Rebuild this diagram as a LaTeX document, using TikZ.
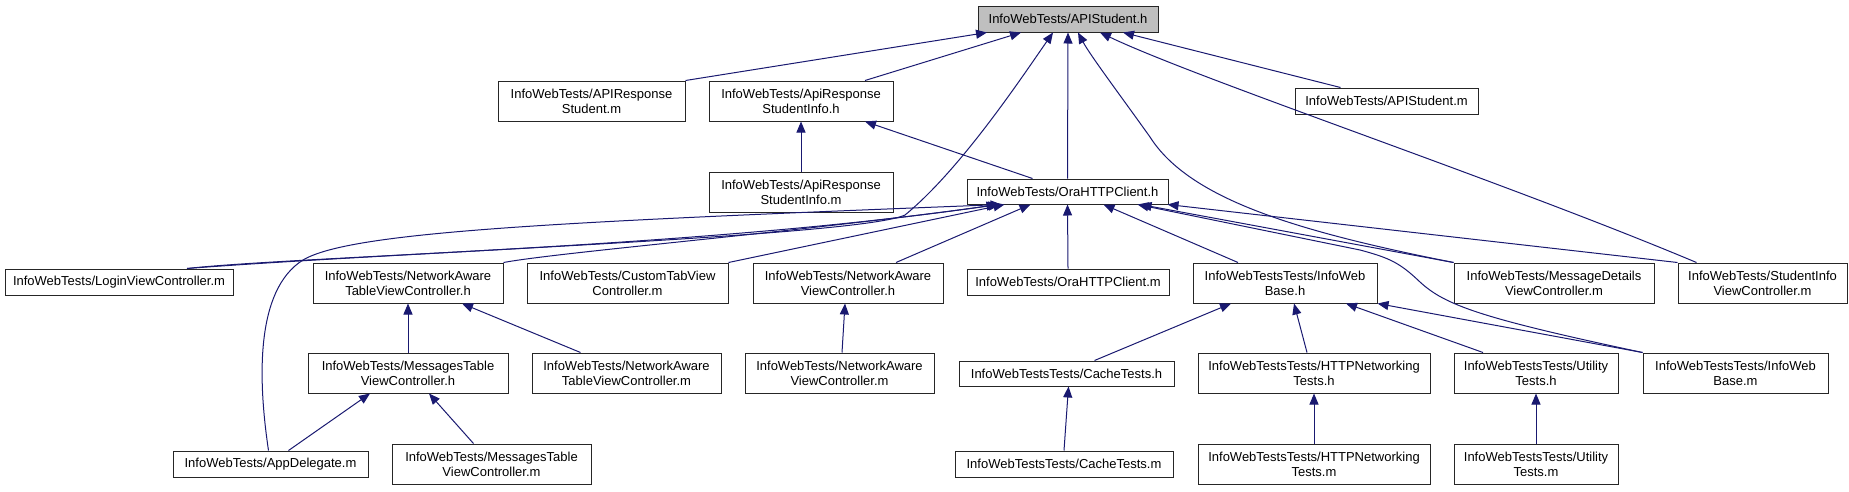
\documentclass[tikz,border=0pt]{standalone}
\usepackage{fontspec}
\setmainfont{Liberation Sans}
\usetikzlibrary{arrows.meta}
\definecolor{edgeblue}{HTML}{191970}
\definecolor{rootgray}{HTML}{BFBFBF}
\newcommand\mkbox[7][]{\node[filebox,#1,minimum width={(#5-#3)*1pt},minimum height={(#6-#4)*1pt}] (#2) at ({(#3+#5)/2},{(#4+#6)/2}) {#7};}
\begin{document}
\begin{tikzpicture}[x=1pt,y=-1pt,
 filebox/.style={draw=black!85,line width=1pt,fill=white,inner sep=0pt,align=center,font=\fontsize{13}{15}\selectfont},
 dep/.style={draw=edgeblue,line width=1pt,-{Triangle[length=11pt,width=9pt]}}]
\useasboundingbox (0,0) rectangle (1849,491);
% nodes
\mkbox[fill=rootgray]{top}{978}{6}{1158}{32}{InfoWebTests/APIStudent.h}
\mkbox{arsm}{498}{81}{685}{121}{InfoWebTests/APIResponse\\Student.m}
\mkbox{arsih}{709}{81}{893}{121}{InfoWebTests/ApiResponse\\StudentInfo.h}
\mkbox{asm}{1295}{88}{1478}{114}{InfoWebTests/APIStudent.m}
\mkbox{arsim}{709}{172}{893}{212}{InfoWebTests/ApiResponse\\StudentInfo.m}
\mkbox{ora}{967}{179}{1168}{204}{InfoWebTests/OraHTTPClient.h}
\mkbox{login}{5}{269}{233}{295}{InfoWebTests/LoginViewController.m}
\mkbox{natvch}{313}{263}{503}{303}{InfoWebTests/NetworkAware\\TableViewController.h}
\mkbox{ctvc}{527}{263}{728}{303}{InfoWebTests/CustomTabView\\Controller.m}
\mkbox{navch}{753}{263}{943}{303}{InfoWebTests/NetworkAware\\ViewController.h}
\mkbox{oram}{967}{269}{1169}{295}{InfoWebTests/OraHTTPClient.m}
\mkbox{iwbh}{1193}{263}{1377}{303}{InfoWebTestsTests/InfoWeb\\Base.h}
\mkbox{mdvc}{1454}{263}{1654}{303}{InfoWebTests/MessageDetails\\ViewController.m}
\mkbox{sivc}{1678}{263}{1847}{303}{InfoWebTests/StudentInfo\\ViewController.m}
\mkbox{mtvch}{308}{353}{508}{393}{InfoWebTests/MessagesTable\\ViewController.h}
\mkbox{natvcm}{532}{353}{721}{393}{InfoWebTests/NetworkAware\\TableViewController.m}
\mkbox{navcm}{745}{353}{934}{393}{InfoWebTests/NetworkAware\\ViewController.m}
\mkbox{cth}{959}{361}{1174}{386}{InfoWebTestsTests/CacheTests.h}
\mkbox{httph}{1198}{353}{1430}{393}{InfoWebTestsTests/HTTPNetworking\\Tests.h}
\mkbox{uth}{1454}{353}{1618}{393}{InfoWebTestsTests/Utility\\Tests.h}
\mkbox{iwbm}{1643}{353}{1828}{393}{InfoWebTestsTests/InfoWeb\\Base.m}
\mkbox{appd}{173}{451}{368}{477}{InfoWebTests/AppDelegate.m}
\mkbox{mtvcm}{392}{444}{591}{484}{InfoWebTests/MessagesTable\\ViewController.m}
\mkbox{ctm}{955}{451}{1173}{477}{InfoWebTestsTests/CacheTests.m}
\mkbox{httpm}{1198}{444}{1430}{484}{InfoWebTestsTests/HTTPNetworking\\Tests.m}
\mkbox{utm}{1454}{444}{1618}{484}{InfoWebTestsTests/Utility\\Tests.m}
% edges into APIStudent.h
\draw[dep] (arsm.north east) -- ([xshift=-81pt]top.south);
\draw[dep] ([xshift=64pt]arsih.north) -- ([xshift=-47pt]top.south);
\draw[dep] ([xshift=68pt]login.north) .. controls (400,252) and (860,236) .. (905,215) .. controls (960,170) and (1020,80) .. ([xshift=-15pt]top.south);
\draw[dep] (ora.north) -- (top.south);
\draw[dep] (mdvc.north west) .. controls (1300,232) and (1190,200) .. (1150,137) .. controls (1120,95) and (1090,55) .. ([xshift=10pt]top.south);
\draw[dep] ([xshift=-66pt]sivc.north) .. controls (1500,180) and (1200,80) .. ([xshift=32pt]top.south);
\draw[dep] ([xshift=-46pt]asm.north) -- ([xshift=55pt]top.south);
% edges into ApiResponseStudentInfo.h
\draw[dep] (arsim.north) -- (arsih.south);
\draw[dep] ([xshift=-35pt]ora.north) -- ([xshift=64pt]arsih.south);
% edges into OraHTTPClient.h
\draw[dep] ([xshift=68pt]login.north) .. controls (300,256) and (700,248) .. ([xshift=-70pt]ora.south);
\draw[dep] (natvch.north east) .. controls (560,252) and (800,232) .. ([xshift=-68pt]ora.south);
\draw[dep] ([xshift=-2pt]appd.north) .. controls (258,380) and (255,290) .. (303,260) .. controls (350,232) and (550,222) .. ([xshift=-66pt]ora.south);
\draw[dep] (ctvc.north east) -- ([xshift=-63pt]ora.south);
\draw[dep] ([xshift=48pt]navch.north) -- ([xshift=-37pt]ora.south);
\draw[dep] (oram.north) -- (ora.south);
\draw[dep] ([xshift=-47pt]iwbh.north) -- ([xshift=36pt]ora.south);
\draw[dep] (mdvc.north west) -- ([xshift=73pt]ora.south);
\draw[dep] (iwbm.north west) .. controls (1480,318) and (1445,305) .. (1420,282) .. controls (1400,263) and (1390,258) .. (1360,250) -- ([xshift=70pt]ora.south);
\draw[dep] (sivc.north west) -- ([xshift=100pt]ora.south);
% lower levels
\draw[dep] (mtvch.north) -- (natvch.south);
\draw[dep] ([xshift=-46pt]natvcm.north) -- ([xshift=54pt]natvch.south);
\draw[dep] ([xshift=18pt]appd.north) -- ([xshift=-38pt]mtvch.south);
\draw[dep] ([xshift=-18pt]mtvcm.north) -- ([xshift=21pt]mtvch.south);
\draw[dep] ([xshift=2.5pt]navcm.north) -- ([xshift=-3pt]navch.south);
\draw[dep] ([xshift=28pt]cth.north) -- ([xshift=-54pt]iwbh.south);
\draw[dep] (ctm.north) -- ([xshift=2pt]cth.south);
\draw[dep] ([xshift=-7pt]httph.north) -- ([xshift=9pt]iwbh.south);
\draw[dep] ([xshift=-53pt]uth.north) -- ([xshift=61pt]iwbh.south);
\draw[dep] (iwbm.north west) -- (iwbh.south east);
\draw[dep] (httpm.north) -- (httph.south);
\draw[dep] (utm.north) -- (uth.south);
\end{tikzpicture}
\end{document}
